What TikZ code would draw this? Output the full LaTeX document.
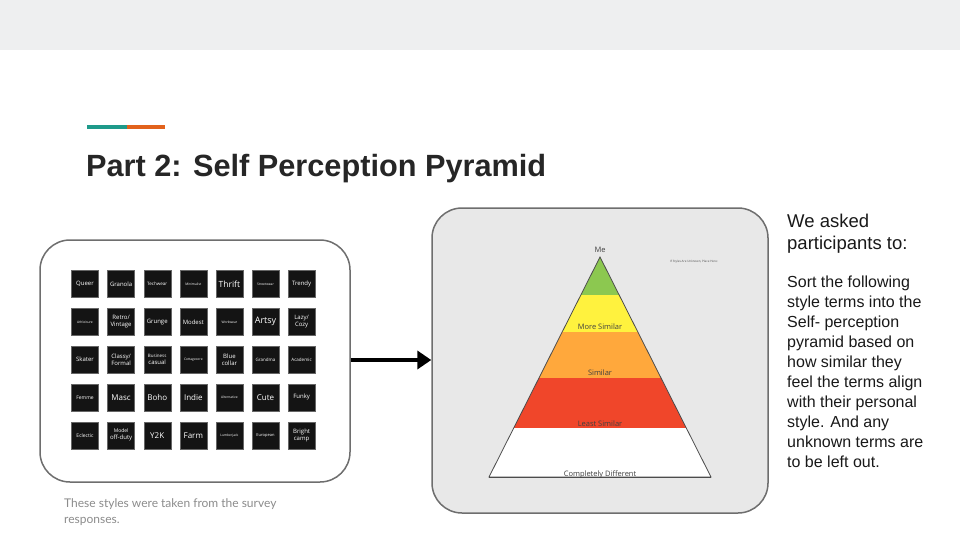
\documentclass[tikz,border=0pt]{standalone}
\usepackage{fontspec}
\setmainfont{Liberation Sans}
\newfontfamily\lato{Lato}
\newfontfamily\opens{Open Sans}
\usetikzlibrary{arrows.meta}
\definecolor{topbar}{HTML}{EEEFF0}
\definecolor{teal1}{HTML}{1E9A8A}
\definecolor{orng}{HTML}{E2621C}
\definecolor{boxline}{HTML}{6E6E6E}
\definecolor{panel}{HTML}{E8E8E8}
\definecolor{pgreen}{HTML}{8CC850}
\definecolor{pyellow}{HTML}{FFF23E}
\definecolor{porange}{HTML}{FFA83C}
\definecolor{pred}{HTML}{F0462A}
\newcommand\tn{\fontsize{3.3}{4}\selectfont}
\tikzset{
  tile/.style={fill=black!92, draw=black!60, minimum width=27pt, minimum height=27pt, inner sep=0pt, text=white!85, align=center, font=\opens\fontsize{6}{7}\selectfont},
  tiny/.style={font=\opens\fontsize{3}{3.5}\selectfont},
  plabel/.style={font=\opens\fontsize{7.5}{8}\selectfont, text=black!75, anchor=base},
  layer/.style={draw=black!70, line width=0.8pt}
}
\begin{document}
\begin{tikzpicture}[x=1pt,y=-1pt]
\useasboundingbox (0,0) rectangle (960,540);
\fill[white] (0,0) rectangle (960,540);
\fill[topbar] (0,0) rectangle (960,50);
\draw[teal1, line width=4pt] (87,127) -- (127,127);
\draw[orng, line width=4pt] (127,127) -- (165,127);
\node[anchor=base west, font=\bfseries\fontsize{30.7}{33}\selectfont, text=black!85, inner sep=0] (title) at (86,177) {Part 2: Self Perception Pyramid};
% left panel
\draw[boxline, line width=1.5pt, fill=white, rounded corners=30pt] (40,240) rectangle (350,482);
\foreach \lab [count=\i from 0] in {Queer,Granola,{\fontsize{4.5}{5}\selectfont Techwear},{\tn Minimalist},\fontsize{8.5}{9}\selectfont Thrift,{\tn Streetwear},Trendy,
 {\tn Athleisure},Retro/\\Vintage,Grunge,Modest,{\tn Workwear},\fontsize{9}{10}\selectfont Artsy,Lazy/\\Cozy,
 Skater,Classy/\\Formal,{\fontsize{4.5}{5}\selectfont Business\\casual},{\tn Cottagecore},Blue\\collar,{\fontsize{4.5}{5}\selectfont Grandma},{\fontsize{4.5}{5}\selectfont Academic},
 {\fontsize{5}{6}\selectfont Femme},\fontsize{8}{9}\selectfont Masc,\fontsize{8}{9}\selectfont Boho,\fontsize{8}{9}\selectfont Indie,{\tn Alternative},\fontsize{8}{9}\selectfont Cute,Funky,
 {\fontsize{5}{6}\selectfont Eclectic},{\fontsize{5}{6}\selectfont Model\\off-duty},\fontsize{8}{9}\selectfont Y2K,\fontsize{8}{9}\selectfont Farm,{\tn Lumberjack},{\fontsize{4}{5}\selectfont European},Bright\\camp}{
  \pgfmathtruncatemacro\col{mod(\i,7)}
  \pgfmathtruncatemacro\row{div(\i,7)}
  \pgfmathsetmacro\xx{85+36.1*\col}
  \pgfmathsetmacro\yy{284+37.8*\row}
  \node[tile] (t\i) at (\xx,\yy) {\lab};
}
% right panel
\draw[boxline, line width=1.5pt, fill=panel, rounded corners=30pt] (432,208) rectangle (768,513);
\node[inner sep=0] (panelL) at (432,360) {};
\node[inner sep=0] (leftR) at (350,360) {};
\draw[line width=3.5pt, -{Triangle[length=14pt,width=18pt]}] (leftR) -- (panelL);
% pyramid
\foreach \ya/\yb/\cl in {257/295/pgreen,295/332/pyellow,332/378/porange,378/428/pred,428/477/white}{
  \pgfmathsetmacro\xa{0.50455*(\ya-257)}
  \pgfmathsetmacro\xb{0.50455*(\yb-257)}
  \fill[\cl] (600-\xa,\ya) -- (600+\xa,\ya) -- (600+\xb,\yb) -- (600-\xb,\yb) -- cycle;
  \draw[layer] (600-\xb,\yb) -- (600+\xb,\yb);
}
\draw[layer, line join=miter] (600,257) -- (711,477) -- (489,477) -- cycle;
\node[plabel] (me) at (600,252) {Me};
\node[plabel] (ms) at (600,329) {More Similar};
\node[plabel] (s) at (600,375) {Similar};
\node[plabel] (ls) at (600,426) {Least Similar};
\node[plabel] (cd) at (600,476) {Completely Different};
\node[tiny, text=black!70] (unk) at (694,262) {If Styles Are Unknown, Place Here:};
% right text
\node[anchor=north west, align=left, inner sep=0, font=\fontsize{18.5}{22}\selectfont, text=black!90] (we) at (787,214) {We asked\\participants to:};
\node[anchor=north west, align=left, inner sep=0, font=\fontsize{16}{20}\selectfont, text=black!90] (body) at (787,276) {Sort the following\\style terms into the\\Self- perception\\pyramid based on\\how similar they\\feel the terms align\\with their personal\\style. And any\\unknown terms are\\to be left out.};
\node[anchor=north west, align=left, inner sep=0, font=\lato\fontsize{12}{16}\selectfont, text=black!45] (cap) at (64,498) {These styles were taken from the survey\\responses.};
\end{tikzpicture}
\end{document}
